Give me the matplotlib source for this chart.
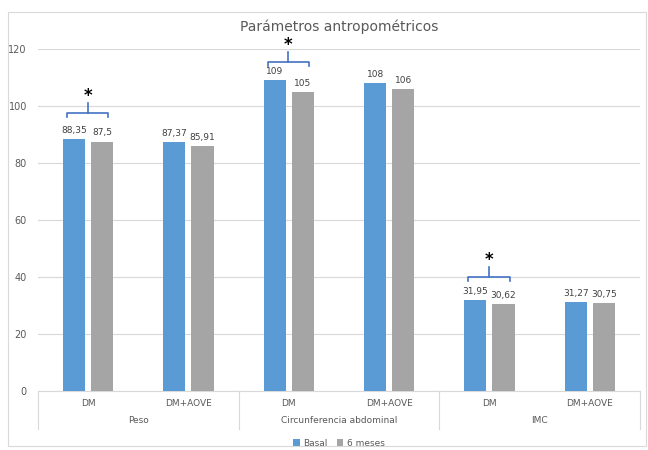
import numpy as np
import matplotlib.pyplot as plt
from matplotlib.transforms import blended_transform_factory

groups = ["Peso", "Circunferencia abdominal", "IMC"]
subgroups = ["DM", "DM+AOVE", "DM", "DM+AOVE", "DM", "DM+AOVE"]
basal = [88.35, 87.37, 109, 108, 31.95, 31.27]
meses6 = [87.5, 85.91, 105, 106, 30.62, 30.75]
basal_lbl = ["88,35", "87,37", "109", "108", "31,95", "31,27"]
meses6_lbl = ["87,5", "85,91", "105", "106", "30,62", "30,75"]
# brackets with significance: (category index, bracket height)
sig = [(0, 97.5), (2, 115.4), (4, 40.0)]

blue = "#5B9BD5"
grey = "#A5A5A5"
txt = "#595959"

fig = plt.figure(figsize=(6.48, 4.5), dpi=100)
ax = fig.add_axes([0.0586, 0.131, 0.929, 0.76])

x = np.arange(len(subgroups))
w = 0.22
ax.bar(x - 0.14, basal, w, color=blue, label="Basal", zorder=3)
ax.bar(x + 0.14, meses6, w, color=grey, label="6 meses", zorder=3)

for i in x:
    ax.text(i - 0.14, basal[i] + 1.5, basal_lbl[i], ha="center", va="bottom",
            fontsize=6.5, color="#404040")
    ax.text(i + 0.14, meses6[i] + 1.5, meses6_lbl[i], ha="center", va="bottom",
            fontsize=6.5, color="#404040")

for i, h in sig:
    x0, x1 = i - 0.21, i + 0.20
    xm = (x0 + x1) / 2
    ax.plot([x0, x0, x1, x1], [h - 1.4, h, h, h - 1.4], color="#4472C4", lw=1.2,
            clip_on=False, zorder=4)
    ax.plot([xm, xm], [h, h + 3.6], color="#4472C4", lw=1.2, clip_on=False, zorder=4)
    ax.text(xm, h + 2.7, "*", ha="center", va="bottom", fontsize=12,
            fontweight="bold", color="black", clip_on=False)

ax.set_xlim(-0.5, 5.5)
ax.set_ylim(0, 120)
ax.set_yticks(range(0, 121, 20))
ax.tick_params(axis="y", length=0, labelsize=7, labelcolor=txt, pad=8)
ax.set_xticks([])
ax.grid(axis="y", color="#D9D9D9", lw=0.8, zorder=0)
for s in ["top", "right", "left"]:
    ax.spines[s].set_visible(False)
ax.spines["bottom"].set_color("#D9D9D9")

tr = blended_transform_factory(ax.transData, ax.transAxes)
for i in x:
    ax.text(i, -0.035, subgroups[i], transform=tr, ha="center", va="center",
            fontsize=6.5, color=txt)
for g, name in enumerate(groups):
    ax.text(2 * g + 0.5, -0.085, name, transform=tr, ha="center", va="center",
            fontsize=6.5, color=txt)
for b in [-0.5, 1.5, 3.5, 5.5]:
    ax.plot([b, b], [0, -0.11], transform=tr, color="#D9D9D9", lw=0.8, clip_on=False)

ax.set_title("Parámetros antropométricos", fontsize=10, color=txt, pad=13)
ax.legend(loc="upper center", bbox_to_anchor=(0.5, -0.115), ncol=2, frameon=False,
          fontsize=6.5, handlelength=0.7, handleheight=0.7, columnspacing=1.0,
          handletextpad=0.4, labelcolor=txt)

fig.add_artist(plt.Rectangle((0.012, 0.01), 0.985, 0.963, fill=False,
                             edgecolor="#D9D9D9", lw=0.8, transform=fig.transFigure))

plt.savefig("out.png")
